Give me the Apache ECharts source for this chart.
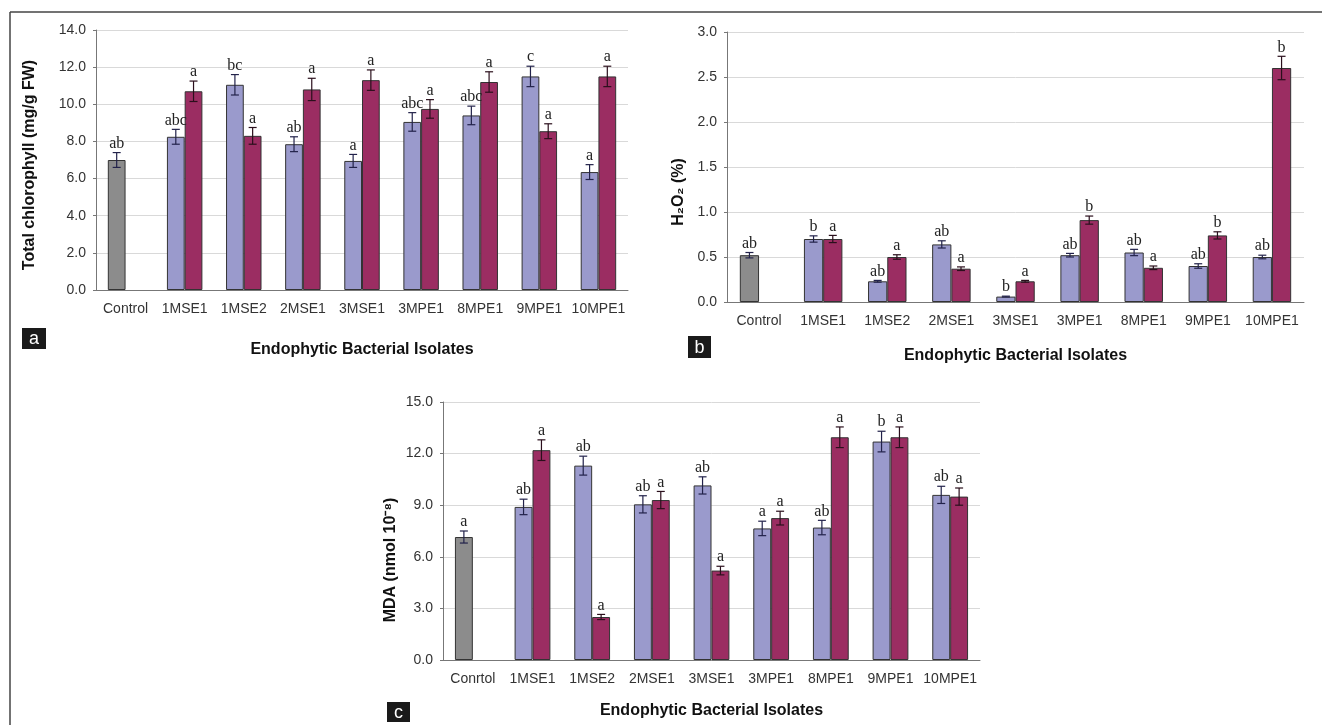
<!DOCTYPE html>
<html>
<head>
<meta charset="utf-8">
<title>Endophytic bacterial isolates</title>
<script src="https://cdn.jsdelivr.net/npm/echarts@6/dist/echarts.min.js"></script>
<style>
  html, body { margin: 0; padding: 0; background: #fff; }
  #chart { width: 1322px; height: 725px; }
</style>
</head>
<body>
<div id="chart"></div>
<script>
// categories
const isolates = ['Control', '1MSE1', '1MSE2', '2MSE1', '3MSE1', '3MPE1', '8MPE1', '9MPE1', '10MPE1'];
const isolatesC = ['Conrtol', '1MSE1', '1MSE2', '2MSE1', '3MSE1', '3MPE1', '8MPE1', '9MPE1', '10MPE1'];

// panel a - total chlorophyll (first value = control)
const chlA = [7.0, 8.25, 11.05, 7.85, 6.95, 9.05, 9.4, 11.5, 6.35];
const chlAErr = [0.4, 0.4, 0.55, 0.4, 0.35, 0.5, 0.5, 0.55, 0.4];
const chlALbl = ['ab', 'abc', 'bc', 'ab', 'a', 'abc', 'abc', 'c', 'a'];
const chlB = [null, 10.7, 8.3, 10.8, 11.3, 9.75, 11.2, 8.55, 11.5];
const chlBErr = [0, 0.55, 0.45, 0.6, 0.55, 0.5, 0.55, 0.4, 0.55];
const chlBLbl = ['', 'a', 'a', 'a', 'a', 'a', 'a', 'a', 'a'];

// panel b - H2O2
const h2o2A = [0.52, 0.70, 0.23, 0.64, 0.06, 0.52, 0.55, 0.40, 0.50];
const h2o2AErr = [0.03, 0.035, 0.01, 0.04, 0.005, 0.02, 0.035, 0.025, 0.02];
const h2o2ALbl = ['ab', 'b', 'ab', 'ab', 'b', 'ab', 'ab', 'ab', 'ab'];
const h2o2B = [null, 0.70, 0.50, 0.37, 0.23, 0.91, 0.38, 0.74, 2.60];
const h2o2BErr = [0, 0.04, 0.025, 0.02, 0.01, 0.045, 0.02, 0.04, 0.13];
const h2o2BLbl = ['', 'a', 'a', 'a', 'a', 'b', 'a', 'b', 'b'];

// panel c - MDA
const mdaA = [7.15, 8.9, 11.3, 9.05, 10.15, 7.65, 7.7, 12.7, 9.6];
const mdaAErr = [0.35, 0.45, 0.55, 0.5, 0.5, 0.42, 0.42, 0.6, 0.5];
const mdaALbl = ['a', 'ab', 'ab', 'ab', 'ab', 'a', 'ab', 'b', 'ab'];
const mdaB = [null, 12.2, 2.5, 9.3, 5.2, 8.25, 12.95, 12.95, 9.5];
const mdaBErr = [0, 0.6, 0.15, 0.5, 0.25, 0.4, 0.6, 0.6, 0.5];
const mdaBLbl = ['', 'a', 'a', 'a', 'a', 'a', 'a', 'a', 'a'];

const GRAY = '#8c8c8c';
const LAV = '#9a9acc';
const MAROON = '#9b2d62';
const SANS = 'Liberation Sans, Arial, sans-serif';
const SERIF = 'Liberation Serif, Times New Roman, serif';

const chart = echarts.init(document.getElementById('chart'));

function barData(vals, controlColor) {
  return vals.map((v, i) => {
    if (v === null) return '-';
    if (i === 0 && controlColor) return { value: v, itemStyle: { color: controlColor } };
    return v;
  });
}

// error bars + significance letters, drawn on top of the bars
function errorSeries(idx, vals, errs, lbls, slot, color) {
  return {
    type: 'custom',
    xAxisIndex: idx,
    yAxisIndex: idx,
    z: 5,
    silent: true,
    encode: { x: 0, y: 1 },
    data: vals.map((v, i) => [i, v === null ? 0 : v, errs[i]]),
    renderItem: function (params, api) {
      const i = params.dataIndex;
      if (vals[i] === null) return null;
      const v = vals[i], e = errs[i];
      const band = api.size([1, 0])[0];
      const w = band * 0.3;
      const c = api.coord([i, v]);
      const cx = c[0] + (slot === 0 ? -w / 2 : w / 2);
      const top = api.coord([i, v + e])[1];
      const bot = api.coord([i, v - e])[1];
      const cap = 4;
      const ls = { stroke: color, lineWidth: 1.2 };
      return {
        type: 'group',
        children: [
          { type: 'line', shape: { x1: cx, y1: top, x2: cx, y2: bot }, style: ls },
          { type: 'line', shape: { x1: cx - cap, y1: top, x2: cx + cap, y2: top }, style: ls },
          { type: 'line', shape: { x1: cx - cap, y1: bot, x2: cx + cap, y2: bot }, style: ls },
          {
            type: 'text',
            x: cx, y: top - 1,
            style: {
              text: lbls[i], fill: '#222', font: '16px ' + SERIF,
              textAlign: 'center', textVerticalAlign: 'bottom'
            }
          }
        ]
      };
    }
  };
}

const grids = [
  { left: 96, top: 30, width: 532, height: 260 },
  { left: 727, top: 32, width: 577, height: 270 },
  { left: 443, top: 402, width: 537, height: 258 }
];

function xAxisFor(idx, cats, gap) {
  return {
    type: 'category',
    gridIndex: idx,
    data: cats,
    name: 'Endophytic Bacterial Isolates',
    nameLocation: 'middle',
    nameGap: gap,
    nameTextStyle: { fontFamily: SANS, fontWeight: 'bold', fontSize: 16, color: '#111' },
    axisLine: { lineStyle: { color: '#777', width: 1 } },
    axisTick: { length: 5, lineStyle: { color: '#777' } },
    axisLabel: { interval: 0, fontFamily: SANS, fontSize: 14, color: '#333', margin: 12 }
  };
}

function yAxisFor(idx, max, interval, decimals) {
  return {
    type: 'value',
    gridIndex: idx,
    min: 0, max: max, interval: interval,
    axisLine: { show: true, lineStyle: { color: '#777', width: 1 } },
    axisTick: { show: true, length: 3, lineStyle: { color: '#777' } },
    splitLine: { lineStyle: { color: '#d9d9d9', width: 1 } },
    axisLabel: {
      fontFamily: SANS, fontSize: 14, color: '#333', margin: 10,
      formatter: v => v.toFixed(decimals)
    }
  };
}

function barSeries(idx, vals, color, withControl) {
  return {
    type: 'bar',
    xAxisIndex: idx,
    yAxisIndex: idx,
    barWidth: '30%',
    barGap: '0%',
    itemStyle: { color: color, borderColor: '#333', borderWidth: 1 },
    data: barData(vals, withControl ? GRAY : null)
  };
}

function panelLetter(x, y, w, h, txt) {
  return {
    type: 'group',
    x: x, y: y,
    children: [
      { type: 'rect', shape: { x: 0, y: 0, width: w, height: h }, style: { fill: '#1a1a1a' } },
      { type: 'text', x: w / 2, y: h / 2 + 1, style: { text: txt, fill: '#fff', font: '18px ' + SANS, textAlign: 'center', textVerticalAlign: 'middle' } }
    ]
  };
}

function yName(x, y, txt) {
  return {
    type: 'text', x: x, y: y, rotation: Math.PI / 2,
    style: { text: txt, fill: '#111', font: 'bold 16px ' + SANS, textAlign: 'center', textVerticalAlign: 'middle' }
  };
}

const option = {
  animation: false,
  backgroundColor: '#fff',
  grid: grids,
  xAxis: [
    xAxisFor(0, isolates, 52),
    xAxisFor(1, isolates, 46),
    xAxisFor(2, isolatesC, 43)
  ],
  yAxis: [
    yAxisFor(0, 14, 2, 1),
    yAxisFor(1, 3, 0.5, 1),
    yAxisFor(2, 15, 3, 1)
  ],
  series: [
    barSeries(0, chlA, LAV, true),
    barSeries(0, chlB, MAROON, false),
    errorSeries(0, chlA, chlAErr, chlALbl, 0, '#22224a'),
    errorSeries(0, chlB, chlBErr, chlBLbl, 1, '#2a0f1c'),

    barSeries(1, h2o2A, LAV, true),
    barSeries(1, h2o2B, MAROON, false),
    errorSeries(1, h2o2A, h2o2AErr, h2o2ALbl, 0, '#22224a'),
    errorSeries(1, h2o2B, h2o2BErr, h2o2BLbl, 1, '#2a0f1c'),

    barSeries(2, mdaA, LAV, true),
    barSeries(2, mdaB, MAROON, false),
    errorSeries(2, mdaA, mdaAErr, mdaALbl, 0, '#22224a'),
    errorSeries(2, mdaB, mdaBErr, mdaBLbl, 1, '#2a0f1c')
  ],
  graphic: [
    // outer frame (top and left edges)
    { type: 'line', shape: { x1: 10, y1: 12, x2: 1322, y2: 12 }, style: { stroke: '#444', lineWidth: 1.5 } },
    { type: 'line', shape: { x1: 10, y1: 12, x2: 10, y2: 725 }, style: { stroke: '#444', lineWidth: 1.5 } },
    yName(30, 165, 'Total chlorophyll (mg/g FW)'),
    yName(679, 192, 'H₂O₂ (%)'),
    yName(391, 560, 'MDA (nmol 10⁻⁸)'),
    panelLetter(22, 328, 24, 21, 'a'),
    panelLetter(688, 336, 23, 22, 'b'),
    panelLetter(387, 702, 23, 20, 'c')
  ]
};

chart.setOption(option);
</script>
</body>
</html>
